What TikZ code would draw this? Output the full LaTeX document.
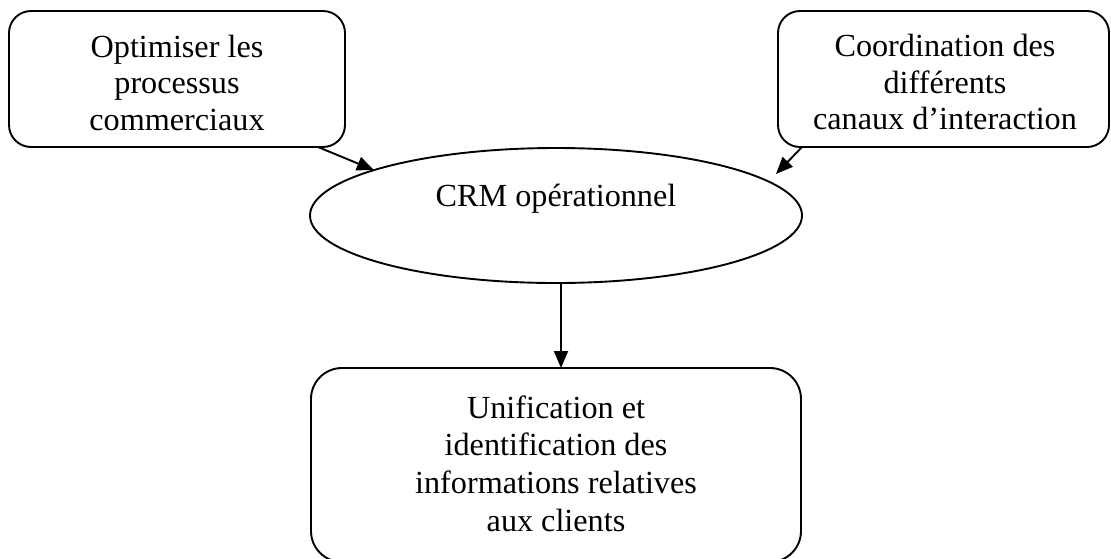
\documentclass[tikz,border=0pt]{standalone}
\usepackage{fontspec}
\setmainfont{Liberation Serif}
\usetikzlibrary{shapes.geometric,arrows.meta}
\begin{document}
\begin{tikzpicture}[x=1pt,y=-1pt,
  every node/.style={inner sep=0pt, outer sep=0pt},
  box/.style={draw, line width=1.9pt, rectangle, rounded corners=22pt},
  oval/.style={draw, line width=1.9pt, ellipse},
  txt/.style={align=center, font=\fontsize{32.2}{36.5}\selectfont},
  txtwide/.style={align=center, font=\fontsize{32.2}{37.6}\selectfont},
  arr/.style={line width=1.9pt, -{Triangle[length=17pt,width=14pt]}}]
\useasboundingbox (0,0) rectangle (1111,558);

% frames
\node[box, minimum width=336pt, minimum height=136pt] (opt) at (177,79) {};
\node[box, minimum width=331pt, minimum height=136pt] (coord) at (943.5,79) {};
\node[oval, minimum width=492pt, minimum height=135pt] (crm) at (556,215.5) {};
\node[box, rounded corners=31pt, minimum width=490pt, minimum height=194pt] (uni) at (556,465) {};

% labels
\node[txt] (optT) at (177,82.5) {Optimiser les\\processus\\commerciaux};
\node[txt] (coordT) at (945,82) {Coordination des\\différents\\canaux d’interaction};
\node[txt, anchor=base] (crmT) at (556,206) {CRM opérationnel};
\node[txtwide] (uniT) at (556,463.5) {Unification et\\identification des\\informations relatives\\aux clients};

% connectors
\draw[arr] ([xshift=-27pt]opt.south east) -- (crm.166.9);
\draw[arr] ([xshift=24pt]coord.south west) -- ([xshift=220pt,yshift=41.5pt]crm.center);
\draw[arr] ([xshift=5pt]crm.south) -- ([xshift=5pt]uni.north);
\end{tikzpicture}
\end{document}
